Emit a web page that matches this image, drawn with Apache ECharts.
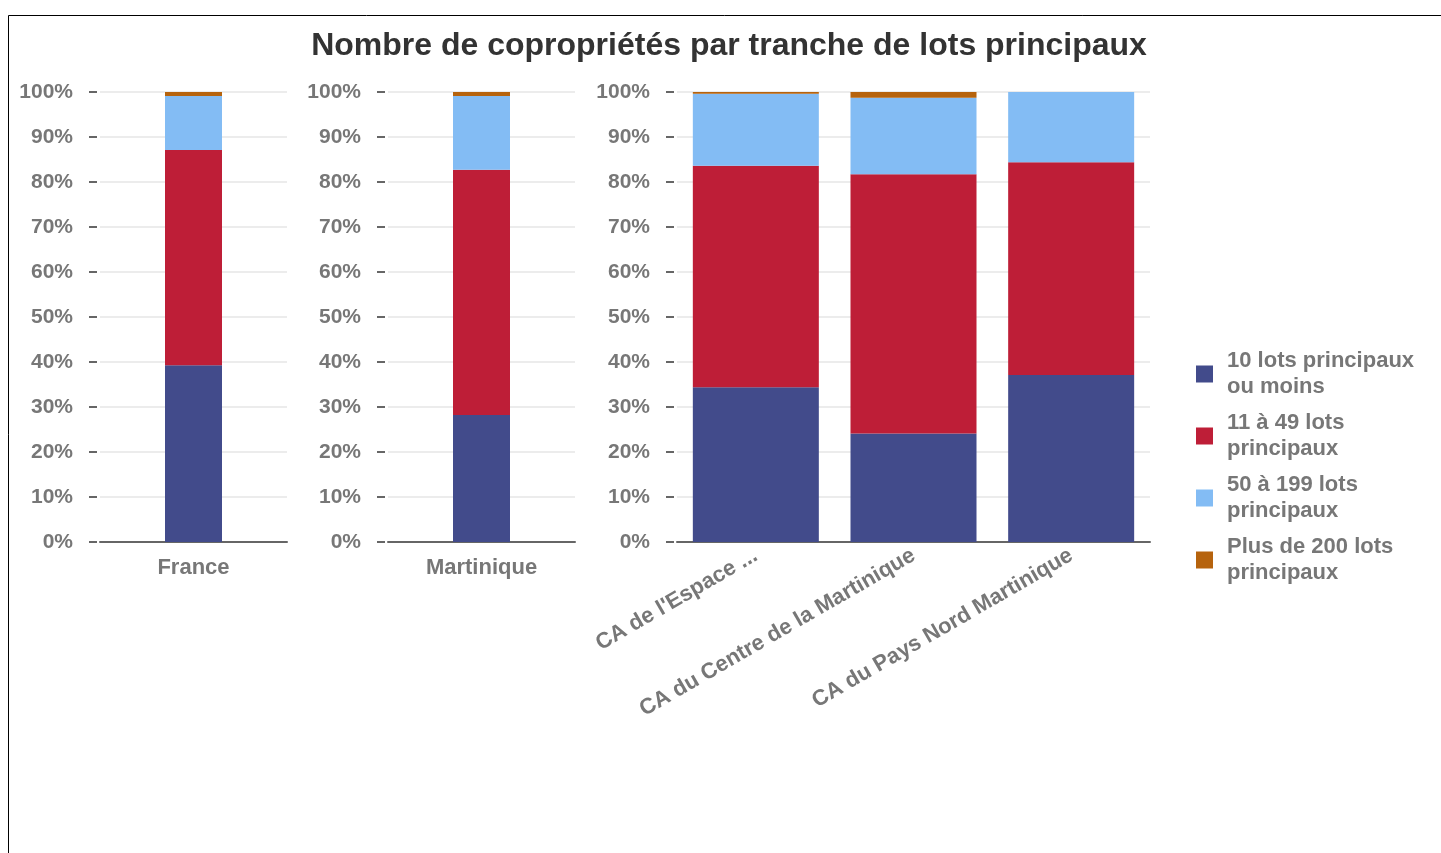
<!DOCTYPE html>
<html>
<head>
<meta charset="utf-8">
<script src="https://cdn.jsdelivr.net/npm/echarts@6/dist/echarts.min.js"></script>
<style>
  html, body { margin: 0; padding: 0; background: #fff; }
  #chart { width: 1441px; height: 853px; }
</style>
</head>
<body>
<div id="chart"></div>
<script>
// territoires (le premier EPCI est tronqué dans la source)
var categories = ['France', 'Martinique', "CA de l'Espace ...", 'CA du Centre de la Martinique', 'CA du Pays Nord Martinique']
// part des copropriétés (%) par tranche de lots principaux
var lots10OuMoins = [39.3, 28.2, 34.4, 24.1, 37.1]
var lots11a49 = [47.8, 54.5, 49.2, 57.6, 47.3]
var lots50a199 = [12.0, 16.4, 16.0, 17.0, 15.6]
var lots200Plus = [0.9, 0.9, 0.4, 1.3, 0]
var seriesNames = ['10 lots principaux ou moins', '11 à 49 lots principaux', '50 à 199 lots principaux', 'Plus de 200 lots principaux']
var legendLabels = ['10 lots principaux\nou moins', '11 à 49 lots\nprincipaux', '50 à 199 lots\nprincipaux', 'Plus de 200 lots\nprincipaux']
var yTicks = [0, 10, 20, 30, 40, 50, 60, 70, 80, 90, 100]
// panneaux : indices des territoires de chaque bloc
var panels = [[0], [1], [2, 3, 4]]

var colors = ['#424b8b', '#be1e37', '#83bcf4', '#b6630d']
var values = [lots10OuMoins, lots11a49, lots50a199, lots200Plus]
var labelFont = { color: '#777', fontWeight: 'bold', fontFamily: 'Liberation Sans, Arial, sans-serif' }

var grids = [
  { left: 100, top: 92, width: 187, height: 450 },
  { left: 388, top: 92, width: 187, height: 450 },
  { left: 677, top: 92, width: 473, height: 450 }
]
var barWidths = [57, 57, 126]

var xAxes = []
var yAxes = []
var series = []

panels.forEach(function(idx, gi) {
  var rotated = gi === 2
  xAxes.push({
    gridIndex: gi,
    type: 'category',
    data: idx.map(function(i) { return categories[i] }),
    axisLine: { lineStyle: { color: '#666', width: 2 } },
    axisTick: { length: 6, lineStyle: { color: '#666', width: 2 } },
    axisLabel: Object.assign({
      fontSize: 22,
      margin: rotated ? 12 : 15,
      rotate: rotated ? 30 : 0,
      interval: 0
    }, labelFont)
  })
  yAxes.push({
    gridIndex: gi,
    type: 'value',
    min: yTicks[0],
    max: yTicks[yTicks.length - 1],
    interval: 10,
    offset: 3,
    axisLine: { show: false },
    axisTick: { show: true, length: 8, lineStyle: { color: '#666', width: 2 } },
    splitLine: { lineStyle: { color: '#e6e6e6', width: 1.5 } },
    axisLabel: Object.assign({ fontSize: 21, margin: 24, formatter: '{value}%' }, labelFont)
  })
  values.forEach(function(arr, si) {
    series.push({
      name: seriesNames[si],
      type: 'bar',
      stack: 'g' + gi,
      xAxisIndex: gi,
      yAxisIndex: gi,
      barWidth: barWidths[gi],
      itemStyle: { color: colors[si] },
      data: idx.map(function(i) { return arr[i] })
    })
  })
})

var chart = echarts.init(document.getElementById('chart'))
chart.setOption({
  animation: false,
  title: {
    text: 'Nombre de copropriétés par tranche de lots principaux',
    left: 724,
    textAlign: 'center',
    top: 25,
    textStyle: { fontSize: 32, fontWeight: 'bold', color: '#333', fontFamily: 'Liberation Sans, Arial, sans-serif' }
  },
  legend: {
    orient: 'vertical',
    left: 1191,
    top: 343,
    itemWidth: 17,
    itemHeight: 17,
    itemGap: 10,
    icon: 'rect',
    data: seriesNames,
    formatter: function(name) { return legendLabels[seriesNames.indexOf(name)] },
    textStyle: Object.assign({ fontSize: 22, lineHeight: 26, padding: [0, 0, 0, 9] }, labelFont)
  },
  graphic: [
    { type: 'line', shape: { x1: 8.5, y1: 15.5, x2: 1441, y2: 15.5 }, style: { stroke: '#000', lineWidth: 1 } },
    { type: 'line', shape: { x1: 8.5, y1: 15.5, x2: 8.5, y2: 853 }, style: { stroke: '#000', lineWidth: 1 } }
  ],
  grid: grids,
  xAxis: xAxes,
  yAxis: yAxes,
  series: series
})
</script>
</body>
</html>
